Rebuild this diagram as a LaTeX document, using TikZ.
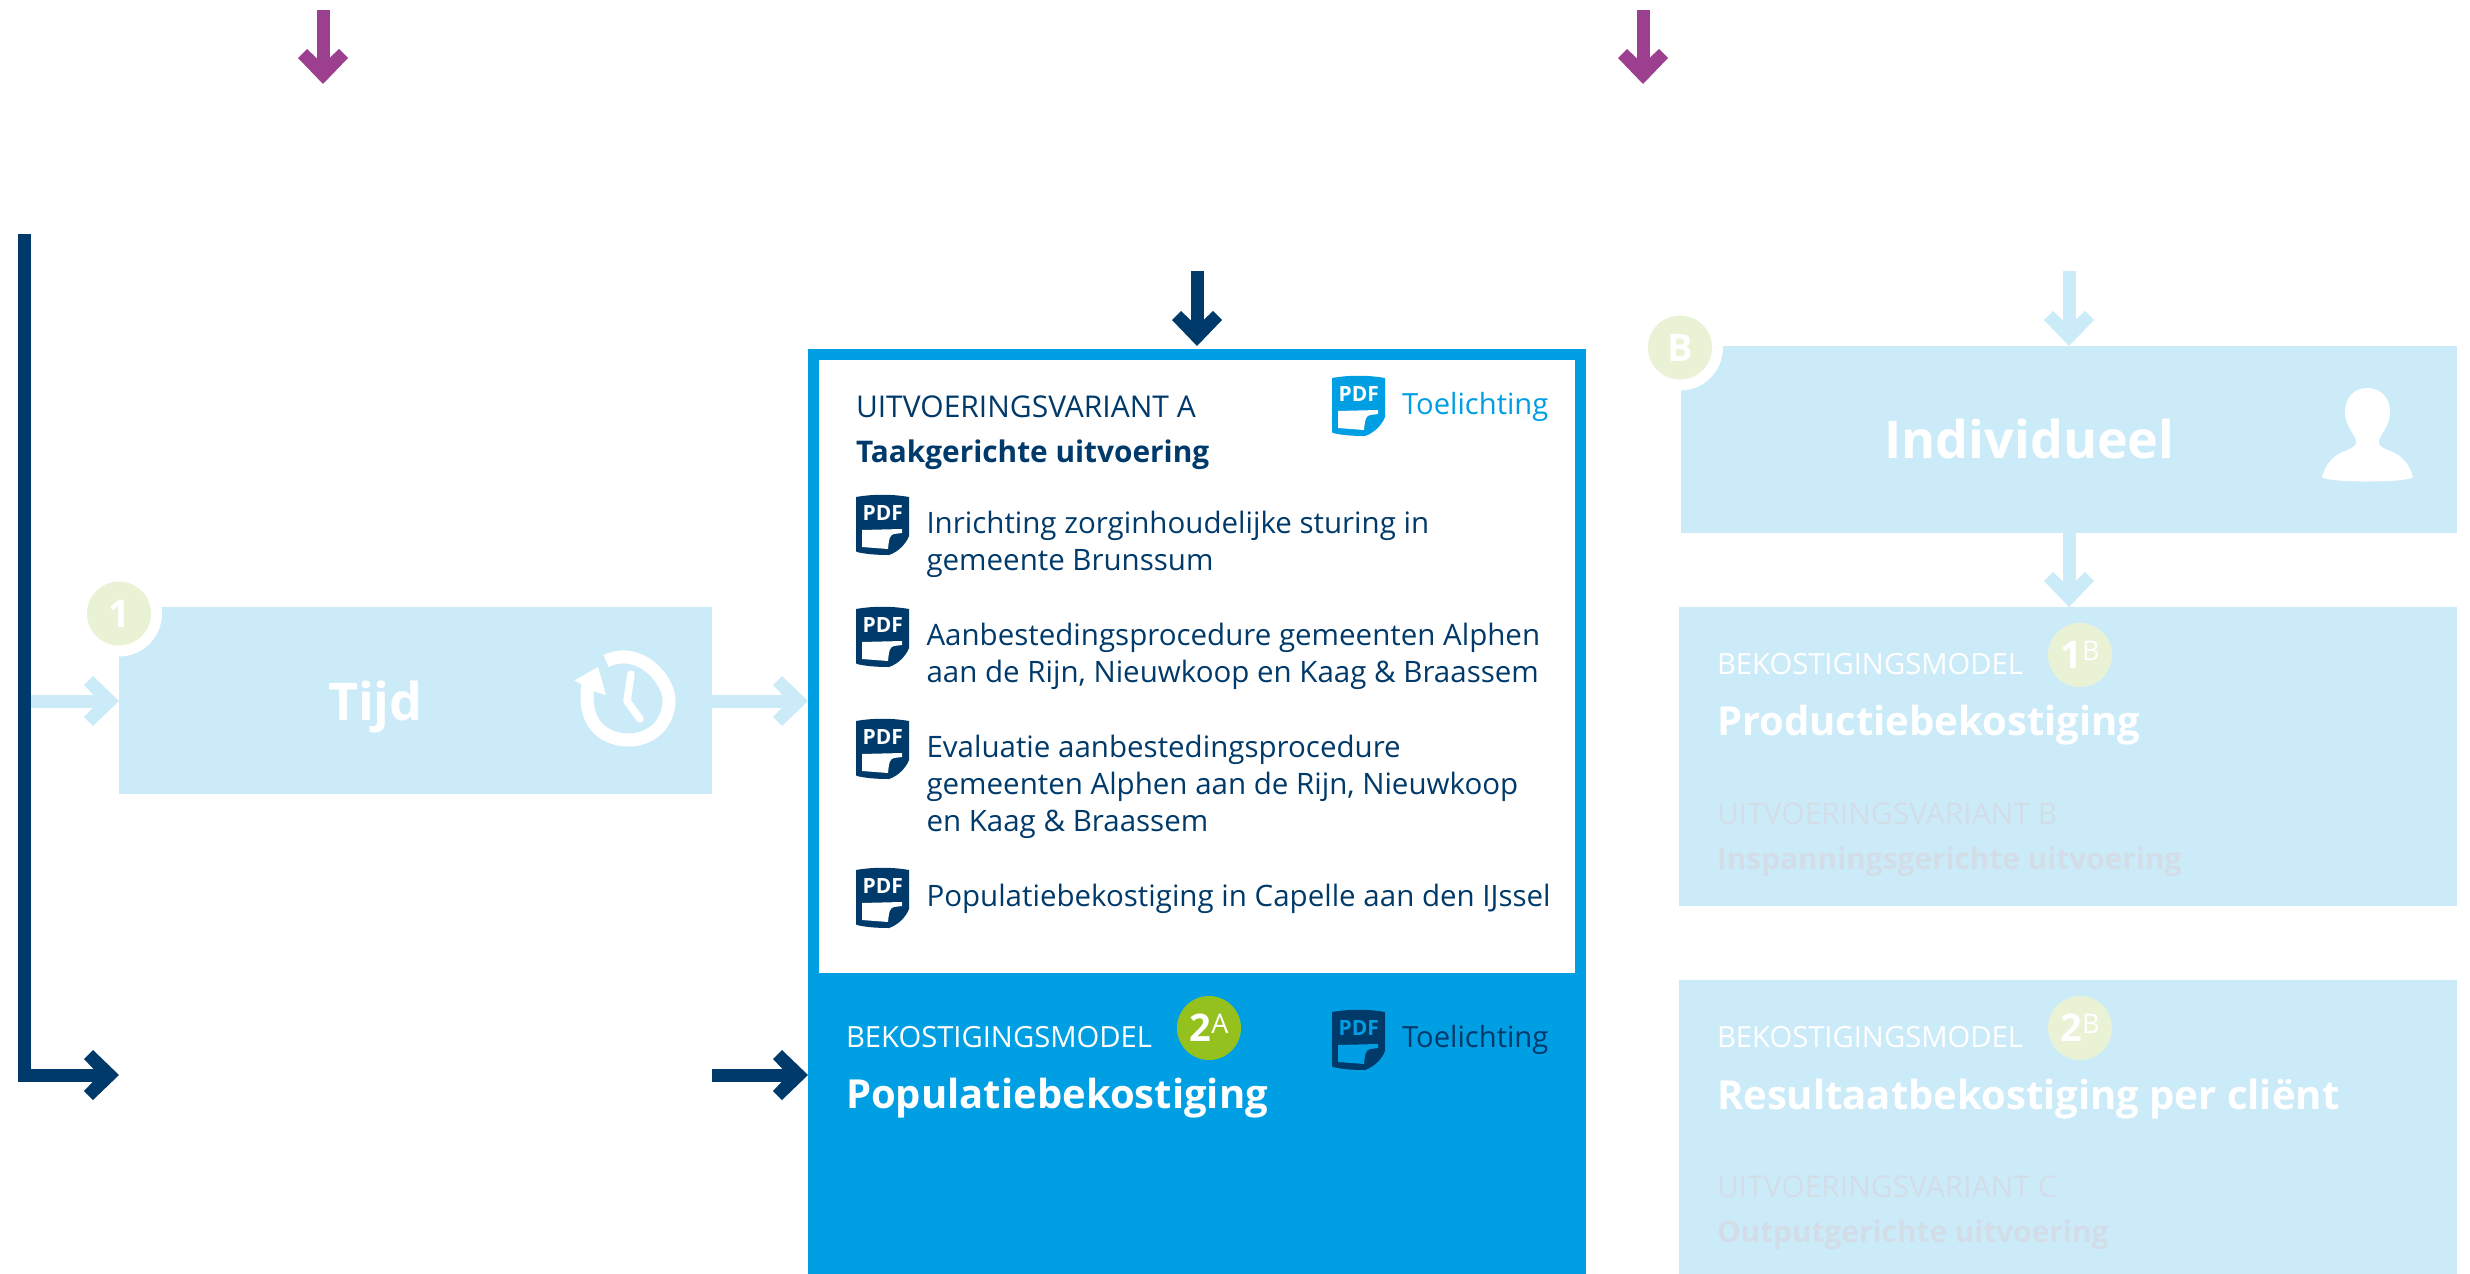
\documentclass[tikz,border=0pt]{standalone}
\usepackage{fontspec}
\usepackage{xcolor}
\usepackage{tikz}
\usetikzlibrary{arrows.meta, positioning}
\setmainfont{Open Sans}

\definecolor{navy}{HTML}{003A6A}
\definecolor{cyanbox}{HTML}{009FE3}
\definecolor{paleblue}{HTML}{CCEBF9}
\definecolor{palegreen}{HTML}{EAF2D5}
\definecolor{limegreen}{HTML}{95C11F}
\definecolor{plum}{HTML}{9D3F8F}
\definecolor{fadetext}{HTML}{D3DDE8}

\pgfdeclarearrow{
	name=Chev,
	setup code={
		\pgfarrowssettipend{0pt}
		\pgfarrowssetlineend{-11pt}
		\pgfarrowssetvisualbackend{-13pt}
		\pgfarrowssetbackend{-17.5pt}
	},
	drawing code={
		\pgfpathmoveto{\pgfpoint{0pt}{0pt}}
		\pgfpathlineto{\pgfpoint{-13pt}{12.5pt}}
		\pgfpathlineto{\pgfpoint{-17.5pt}{8pt}}
		\pgfpathlineto{\pgfpoint{-13pt}{3.25pt}}
		\pgfpathlineto{\pgfpoint{-13pt}{-3.25pt}}
		\pgfpathlineto{\pgfpoint{-17.5pt}{-8pt}}
		\pgfpathlineto{\pgfpoint{-13pt}{-12.5pt}}
		\pgfpathclose
		\pgfusepathqfill
	}
}

\tikzset{
	DarkEdge/.style = {draw=navy, line width=6.5pt, -Chev},
	LightEdge/.style = {draw=paleblue, line width=6.5pt, -Chev},
	PlumEdge/.style = {draw=plum, line width=6.5pt, -Chev},
	PaleBox/.style = {rectangle, fill=paleblue, anchor=north west, inner sep=0pt, outer sep=0pt},
	Ring/.style = {circle, fill=white, minimum size=43pt, inner sep=0pt},
	Badge/.style = {circle, fill=palegreen, text=white, minimum size=32pt, inner sep=0pt},
	Txt/.style = {anchor=base west, inner sep=0pt, outer sep=0pt, align=left},
	Small/.style = {Txt, font=\fontsize{14.6}{17}\selectfont},
	Variant/.style = {Txt, font=\fontsize{15}{17}\selectfont},
	Body/.style = {Txt, text=navy, font=\fontsize{14.75}{18.5}\selectfont},
	Sub/.style = {Txt, font=\bfseries\fontsize{14.9}{17}\selectfont},
	Title/.style = {Txt, text=white, font=\bfseries\fontsize{20}{24}\selectfont},
	Big/.style = {Txt, text=white, font=\bfseries\fontsize{26}{30}\selectfont},
}

\newcommand{\BadgeText}[2]{\fontsize{19}{19}\selectfont\bfseries #1\raisebox{4pt}{\fontsize{13.5}{12}\selectfont\mdseries #2}}

% icon: name, left, top, colour, paper colour
\newcommand{\PdfIcon}[5]{
	\fill[#4] (#2,#3+2) .. controls (#2+17,#3-1) and (#2+36,#3-1) .. (#2+53,#3+2) -- (#2+53,#3+41)
		.. controls (#2+50,#3+49) and (#2+42,#3+57) .. (#2+33,#3+60)
		.. controls (#2+20,#3+60) and (#2+9,#3+59) .. (#2+1,#3+57) .. controls (#2,#3+57) and (#2,#3+56) .. (#2,#3+55) -- cycle;
	\fill[#5] (#2+6,#3+35) -- (#2+46,#3+34) -- (#2+46,#3+38) -- (#2+38,#3+39)
		.. controls (#2+34,#3+40) and (#2+33,#3+43) .. (#2+32,#3+54) -- (#2+6,#3+52) -- cycle;
	\node[inner sep=0pt, text=#5, font=\bfseries\fontsize{10.5}{10}\selectfont, anchor=base] (#1) at (#2+26.8,#3+25) {PDF};
}

\begin{document}
\begin{tikzpicture}[x=0.5pt,y=-0.5pt]
	\useasboundingbox (0,0) rectangle (2470,1274);

	\node[PaleBox, minimum width=296.5pt, minimum height=93.5pt] (Tijd) at (119,607) {};
	\node[PaleBox, minimum width=388pt, minimum height=93.5pt] (Ind) at (1681,346) {};
	\node[PaleBox, minimum width=389pt, minimum height=149.5pt] (ModB1) at (1679,607) {};
	\node[PaleBox, minimum width=389pt, minimum height=147pt] (ModB2) at (1679,980) {};
	\node[rectangle, draw=cyanbox, fill=white, line width=5.5pt, minimum width=383.5pt, minimum height=312pt, inner sep=0pt] (VarA) at (1197,666.5) {};
	\node[rectangle, fill=cyanbox, anchor=north west, minimum width=389.25pt, minimum height=147pt, inner sep=0pt, outer sep=0pt] (ModA) at (807.5,980) {};

	%%%%%%%%%%%%%%%%%%%%%%%%%%%%%%

	\coordinate (P1) at (323,10);
	\coordinate (P2) at (1643,10);
	\coordinate (P3) at (323,84);
	\coordinate (P4) at (1643,84);
	\coordinate (D1) at (24.5,234);
	\coordinate (D2) at (119,1075);
	\coordinate (D3) at (712,1075);
	\coordinate (D4) at (1197,271);
	\coordinate (L1) at (31,701);
	\coordinate (L2) at (2069,271);

	\draw[PlumEdge] (P1) -- (P3);
	\draw[PlumEdge] (P2) -- (P4);
	\draw[LightEdge] (L1) -- (L1 -| Tijd.west);
	\draw[LightEdge] (Tijd.east |- L1) -- (L1 -| VarA.west);
	\draw[DarkEdge] (D1) |- (D2);
	\draw[DarkEdge] (D3) -- (D3 -| VarA.west);
	\draw[DarkEdge, shorten >=1.5pt] (D4) -- (VarA.north);
	\draw[LightEdge] (L2) -- (L2 |- Ind.north);
	\draw[LightEdge] (L2 |- Ind.south) -- (L2 |- ModB1.north);

	%%%%%%%%%%%%%%%%%%%%%%%%%%%%%%

	\node[Ring] (Rg1) at (119,613.5) {};
	\node[Ring] (RgB) at (1680,347.5) {};
	\node[Badge, font=\bfseries\fontsize{19}{19}\selectfont] (Bd1) at (119,613.5) {1};
	\node[Badge, font=\bfseries\fontsize{19}{19}\selectfont] (BdB) at (1680,347.5) {B};
	\node[Badge] (Bd1B) at (2080,655) {\BadgeText{1}{B}};
	\node[Badge] (Bd2B) at (2080,1028) {\BadgeText{2}{B}};
	\node[Badge, fill=limegreen] (Bd2A) at (1209,1028) {\BadgeText{2}{A}};

	\node[Big] (TTijd) at (328,720) {Tijd};
	\node[Big] (TInd) at (1884.5,458) {Individueel};

	\node[Variant, text=navy] (T1) at (856,417) {UITVOERINGSVARIANT A};
	\node[Sub, text=navy] (T2) at (856,462) {Taakgerichte uitvoering};
	\node[Small, text=cyanbox] (T3) at (1402,414) {Toelichting};
	\node[Body] (T4) at (926.5,570) {Inrichting zorginhoudelijke sturing in\\gemeente Brunssum};
	\node[Body] (T5) at (926.5,682) {Aanbestedingsprocedure gemeenten Alphen\\aan de Rijn, Nieuwkoop en Kaag \& Braassem};
	\node[Body] (T6) at (926.5,831) {Evaluatie aanbestedingsprocedure\\gemeenten Alphen aan de Rijn, Nieuwkoop\\en Kaag \& Braassem};
	\node[Body] (T7) at (926.5,906) {Populatiebekostiging in Capelle aan den IJssel};

	\node[Small, text=white] (T8) at (846,1047) {BEKOSTIGINGSMODEL};
	\node[Title] (T9) at (846,1108) {Populatiebekostiging};
	\node[Small, text=navy] (T10) at (1402,1047) {Toelichting};

	\node[Small, text=white] (T11) at (1717,674.5) {BEKOSTIGINGSMODEL};
	\node[Title] (T12) at (1717,735.5) {Productiebekostiging};
	\node[Variant, text=fadetext] (T13) at (1717,824) {UITVOERINGSVARIANT B};
	\node[Sub, text=fadetext] (T14) at (1717,869) {Inspanningsgerichte uitvoering};

	\node[Small, text=white] (T15) at (1717,1047.5) {BEKOSTIGINGSMODEL};
	\node[Title] (T16) at (1717,1109) {Resultaatbekostiging per cliënt};
	\node[Variant, text=fadetext] (T17) at (1717,1197) {UITVOERINGSVARIANT C};
	\node[Sub, text=fadetext] (T18) at (1717,1242) {Outputgerichte uitvoering};

	%%%%%%%%%%%%%%%%%%%%%%%%%%%%%%

	\PdfIcon{I1}{1332}{376}{cyanbox}{white}
	\PdfIcon{I2}{856}{495}{navy}{white}
	\PdfIcon{I3}{856}{607}{navy}{white}
	\PdfIcon{I4}{856}{719}{navy}{white}
	\PdfIcon{I5}{856}{868}{navy}{white}
	\PdfIcon{I6}{1332}{1010}{navy}{cyanbox}

	% clock
	\draw[white, line width=6.5pt] (606,661) .. controls (640,645) and (669,680) .. (669,700)
		.. controls (669,725) and (650,740) .. (629,740) .. controls (605,740) and (582,725) .. (588,685);
	\fill[white] (574.5,680.5) -- (598,667) -- (606,695) -- (596,692) -- cycle;
	\draw[white, line width=3.75pt, line cap=round, line join=round] (631,674) -- (627,701) -- (640,719);

	% person
	\fill[white] (2322,477) .. controls (2325,466) and (2331,458) .. (2340,453) .. controls (2349,449) and (2358,447) .. (2356,440)
		.. controls (2353,432) and (2345,425) .. (2345,412) .. controls (2345,398) and (2354,388) .. (2367,388)
		.. controls (2381,388) and (2390,398) .. (2390,412) .. controls (2390,425) and (2382,432) .. (2379,440)
		.. controls (2377,447) and (2386,449) .. (2395,453) .. controls (2404,458) and (2410,466) .. (2413,477)
		.. controls (2409,483) and (2326,483) .. (2322,477) -- cycle;
\end{tikzpicture}
\end{document}
